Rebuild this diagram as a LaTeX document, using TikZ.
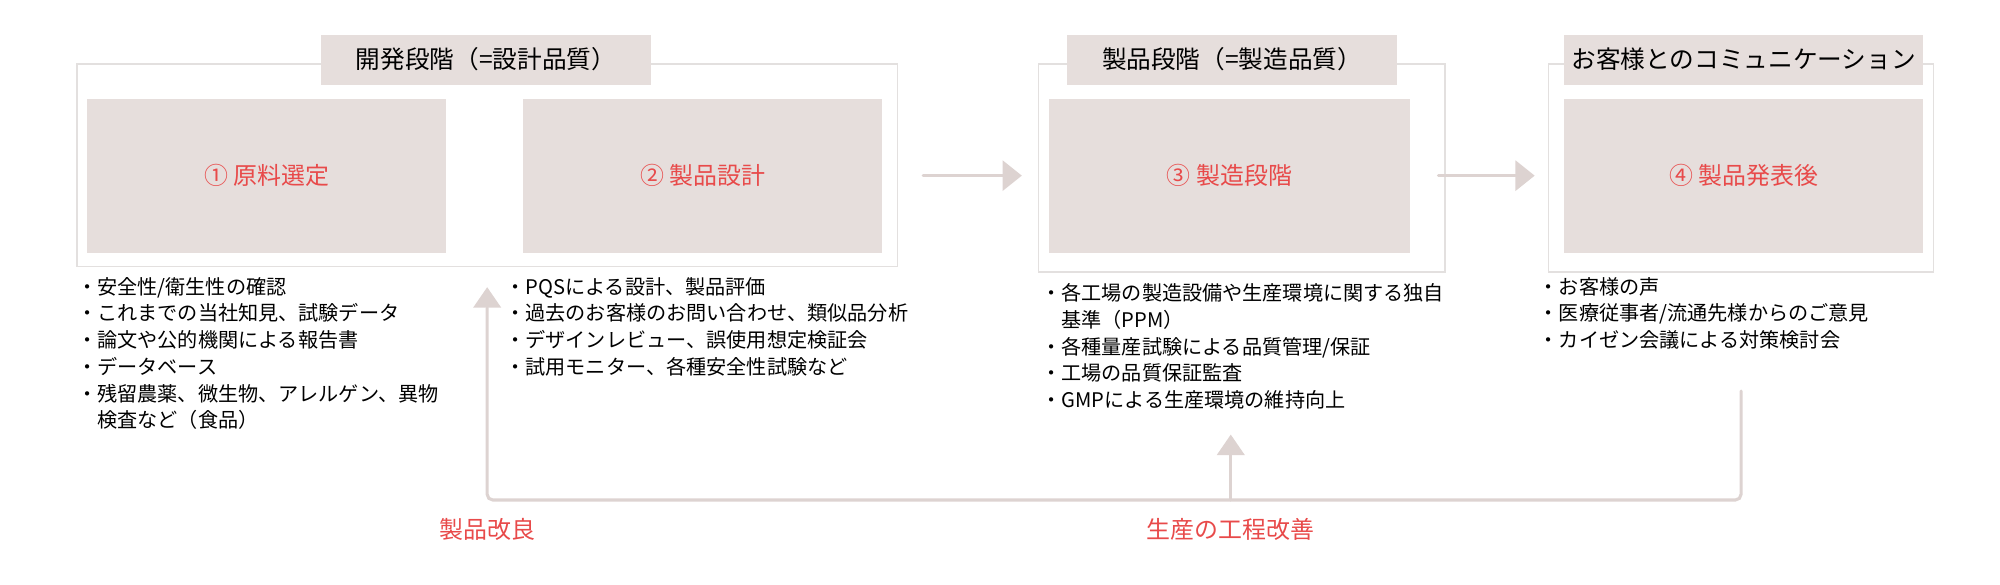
\documentclass[tikz,border=0pt]{standalone}
\usepackage{fontspec}
\setmainfont{Noto Sans CJK JP}
\usetikzlibrary{positioning}
\definecolor{boxfill}{HTML}{E6DEDC}
\definecolor{redtext}{HTML}{E84A4A}
\definecolor{framegray}{HTML}{E3E0DF}
\definecolor{arrowgray}{HTML}{DDD3D1}
\tikzset{
  frame/.style={draw=framegray, line width=1pt},
  tab/.style={fill=boxfill, inner sep=0pt, font=\fontsize{17.5}{20}\selectfont},
  stage/.style={fill=boxfill, inner sep=0pt, text=redtext, font=\fontsize{17}{20}\selectfont},
  notes/.style={anchor=north west, align=left, inner sep=0pt, font=\fontsize{14.3}{19}\selectfont},
  flow/.style={draw=arrowgray, line width=2.2pt, line cap=round},
  label/.style={text=redtext, font=\fontsize{17}{20}\selectfont}
}
\newcommand{\cont}{\phantom{・}}
\begin{document}
\begin{tikzpicture}[x=0.032cm, y=-0.032cm]
  \useasboundingbox (0,0) rectangle (1560,456);

  % outer frames
  \draw[frame] (60,50) rectangle (700,208);
  \draw[frame] (810,50) rectangle (1127,212);
  \draw[frame] (1208,50) rectangle (1508,212);

  % title tabs
  \node[tab, minimum width=258*0.032cm, minimum height=39*0.032cm] (tab1) at (379,46.5) {開発段階（=設計品質）};
  \node[tab, minimum width=258*0.032cm, minimum height=39*0.032cm] (tab2) at (961,46.5) {製品段階（=製造品質）};
  \node[tab, minimum width=280*0.032cm, minimum height=39*0.032cm] (tab3) at (1360,46.5) {お客様とのコミュニケーション};

  % stage boxes
  \node[stage, minimum width=280*0.032cm, minimum height=120*0.032cm] (s1) at (208,137) {① 原料選定};
  \node[stage, minimum width=280*0.032cm, minimum height=120*0.032cm] (s2) at (548,137) {② 製品設計};
  \node[stage, minimum width=282*0.032cm, minimum height=120*0.032cm] (s3) at (959,137) {③ 製造段階};
  \node[stage, minimum width=280*0.032cm, minimum height=120*0.032cm] (s4) at (1360,137) {④ 製品発表後};

  % forward arrows
  \coordinate (a1) at (720,137);
  \coordinate (b1) at (797,137);
  \coordinate (a2) at (1122,137);
  \coordinate (b2) at (1197,137);
  \draw[flow] (a1) -- (782,137);
  \fill[arrowgray] (782,125) -- (b1) -- (782,149) -- cycle;
  \draw[flow] (a2) -- (1182,137);
  \fill[arrowgray] (1182,125) -- (b2) -- (1182,149) -- cycle;

  % notes
  \node[notes] (n1) at (60,216) {・安全性/衛生性の確認\\・これまでの当社知見、試験データ\\・論文や公的機関による報告書\\・データベース\\・残留農薬、微生物、アレルゲン、異物\\\cont 検査など（食品）};
  \node[notes] (n2) at (394,216) {・PQSによる設計、製品評価\\・過去のお客様のお問い合わせ、類似品分析\\・デザインレビュー、誤使用想定検証会\\・試用モニター、各種安全性試験など};
  \node[notes] (n3) at (812,221) {・各工場の製造設備や生産環境に関する独自\\\cont 基準（PPM）\\・各種量産試験による品質管理/保証\\・工場の品質保証監査\\・GMPによる生産環境の維持向上};
  \node[notes] (n4) at (1200,216) {・お客様の声\\・医療従事者/流通先様からのご意見\\・カイゼン会議による対策検討会};

  % feedback loop
  \coordinate (fb0) at (1358,305);
  \coordinate (fb1) at (1358,390);
  \coordinate (fb2) at (380,390);
  \coordinate (fb3) at (380,240);
  \coordinate (fb4) at (960,390);
  \coordinate (fb5) at (960,355);
  \draw[flow, rounded corners=4pt] (fb0) -- (fb1) -- (fb2) -- (fb3);
  \fill[arrowgray] (369,240) -- (380,224) -- (391,240) -- cycle;
  \draw[flow] (fb4) -- (fb5);
  \fill[arrowgray] (949,355) -- (960,339) -- (971,355) -- cycle;

  % labels
  \node[label] (l1) at (380,413) {製品改良};
  \node[label] (l2) at (960,413) {生産の工程改善};
\end{tikzpicture}
\end{document}
